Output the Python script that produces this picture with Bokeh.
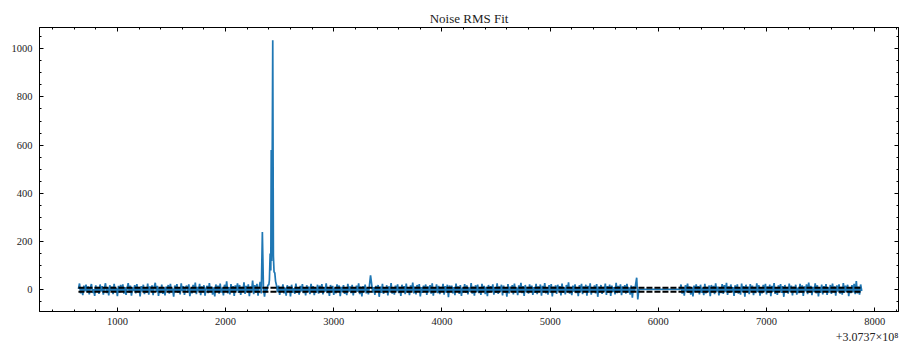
from bokeh.plotting import figure
from bokeh.models import Range1d, LinearAxis, FixedTicker, Title
from bokeh.embed import file_html
from bokeh.resources import INLINE

# ---------------- data (x is offset from 3.0737e8) ----------------
seg_a_start = 640
seg_a_step = 10
seg_a_y = [4, 26, -15, 9, -22, 17, -6, 21, -11, 14, -19, 8, 24, -13, 3, -25, 18, -9, 12, -17,
           22, -7, 15, -20, 6, 27, -14, 10, -23, 19, -4, 13, -18, 25, -10, 7, -26, 16, -12, 20,
           -8, 23, -16, 11, -21, 5, 28, -13, 17, -24, 9, -5, 19, -15, 24, -11, 12, -27, 15, -7,
           21, -18, 8, -12, 26, -20, 14, -6, 18, -22, 11, 29, -9, 16, -25, 7, -14, 22, -17, 10,
           -23, 13, -3, 20, -16, 25, -10, 6, -28, 18, -8, 24, -13, 11, -19, 27, -5, 15, -21, 9,
           17, -12, 23, -26, 8, -15, 20, -9, 30, -18, 12, -6, 25, -22, 14, -11, 19, -24, 7, 16,
           -14, 28, -8, 13, -20, 10, -27, 22, -5, 17, -16, 26, -12, 9, -23, 21, -7, 35, -15, 11,
           -19, 24, -10, 15, -25, 18, -6, 27, -13, 20, -21, 12, -9, 31, -17, 16, -11, 23, -26, 14,
           -8, 38, -18, 19, -12, 25, -24, 10, 33, -15, 240, 6, -28, 12, -10, 18, 22]

spike_x = [2405, 2412, 2418, 2422, 2426, 2430, 2436, 2442, 2448, 2455, 2462, 2470]
spike_y = [40, 150, 80, 580, 120, 430, 1035, 140, 75, 70, 35, 20]

seg_b_start = 2480
seg_b_step = 10
seg_b_y = [-10, 17, -21, 12, -6, 23, -15, 9, -24, 19, -8, 14, -27, 21, -12, 7, -17, 26, -13, 11,
           -20, 16, -7, 24, -14, 10, -23, 19, -9, 13, -18, 25, -5, 15, -22, 8, -12, 21, -16, 17,
           -10, 24, -19, 11, -8, 27, -14, 6, -25, 20, -11, 16, -21, 9, -15, 23, -6, 18, -26, 12,
           -9, 19, -17, 7, -22, 25, -8, 14, -14, 21, -23, 10, -11, 17, -8, 27, -18, 13, -27, 15,
           -10, 22, -15, 8, -19, 18, 60, 24, -12, 11, -21, 16, -9, 20, -29, 13, -13, 25, -17, 9,
           -8, 19, -23, 14, -11, 28, -16, 10, -20, 17, -6, 23, -14, 12, -25, 21, -10, 15, -18, 26,
           -12, 9, -22, 18, -7, 30, -15, 13, -19, 20, -9, 24, -27, 11, -13, 17, -8, 22, -21, 14,
           -11, 19, -16, 27, -24, 10, -10, 23, -14, 16, -18, 12, -7, 25, -20, 15, -12, 21, -31, 18,
           -9, 17, -15, 11, -22, 26, -6, 14, -17, 20, -25, 9, -11, 24, -13, 18, -19, 10, -8, 28,
           -16, 13, -24, 19, -10, 22, -14, 8, -21, 25, -7, 16, -18, 12, -26, 20, -12, 15, -9, 23,
           -20, 11, -13, 27, -17, 14, -8, 21, -23, 17, -11, 9, -28, 24, -15, 13, -6, 19, -19, 26,
           -12, 10, -22, 18, -9, 29, -14, 15, -25, 20, -10, 12, -16, 23, -7, 17, -21, 11, -13, 25,
           -18, 14, -8, 22, -24, 16, -11, 28, -15, 9, -20, 19, -12, 24, -27, 13, -9, 18, -17, 21,
           -6, 15, -23, 26, -13, 10, -19, 20, -10, 31, -16, 12, -22, 17, -8, 23, -14, 11, -26, 19,
           -11, 25, -18, 14, -9, 21, -24, 16, -12, 27, -20, 10, -7, 18, -15, 24, -29, 13, -10, 20,
           -17, 12, -8, 26, -21, 15, -13, 22, -25, 17, -9, 11, -19, 29, -14, 16, -11, 23, -22, 14,
           -7, 19, -16, 25, -12, 10, -20, 18, -33, 14, -9, 21, 50, -40, 2]

seg_c_start = 6200
seg_c_step = 10
seg_c_y = [2, 22, -16, 11, -24, 19, -8, 26, -13, 14, -20, 9, -27, 17, -10, 23, -6, 15, -19, 21,
           -12, 8, -22, 25, -15, 12, -9, 18, -26, 20, -11, 16, -18, 27, -7, 13, -23, 10, -14, 24,
           -17, 19, -10, 29, -21, 14, -13, 22, -8, 11, -25, 18, -12, 23, -16, 9, -20, 26, -9, 15,
           -28, 21, -11, 13, -18, 24, -6, 17, -22, 12, -14, 27, -10, 19, -24, 10, -15, 20, -8, 25,
           -19, 14, -12, 22, -26, 16, -9, 28, -17, 11, -21, 18, -7, 24, -13, 15, -29, 20, -11, 12,
           -16, 26, -10, 17, -23, 13, -8, 21, -20, 9, -14, 25, -12, 18, -25, 14, -6, 23, -18, 30,
           -11, 16, -22, 12, -9, 27, -15, 19, -27, 11, -13, 22, -19, 15, -8, 24, -21, 10, -12, 20,
           -17, 26, -10, 14, -24, 18, -7, 23, -16, 12, -20, 28, -13, 17, -9, 21, -26, 11, -14, 19,
           -11, 25, -18, 36, -15, 13, -20, 22, -5]

fit_levels = [9, -8]

x_major = [1000, 2000, 3000, 4000, 5000, 6000, 7000, 8000]
y_major = [0, 200, 400, 600, 800, 1000]
offset_text = "+3.0737×10⁸"
title_text = "Noise RMS Fit"

# ---------------- assemble ----------------
x_all = ([seg_a_start + seg_a_step * i for i in range(len(seg_a_y))] + spike_x +
         [seg_b_start + seg_b_step * i for i in range(len(seg_b_y))] +
         [seg_c_start + seg_c_step * i for i in range(len(seg_c_y))])
y_all = seg_a_y + spike_y + seg_b_y + seg_c_y

FONT = "Liberation Serif"

p = figure(width=900, height=343, output_backend="svg", toolbar_location=None,
           x_range=Range1d(280, 8220), y_range=Range1d(-90, 1088),
           min_border_left=39, min_border_right=2, min_border_top=27, min_border_bottom=31)
p.xgrid.visible = False
p.ygrid.visible = False
p.outline_line_color = "black"
p.outline_line_width = 1
p.background_fill_color = "white"
p.border_fill_color = "white"

p.title.text = title_text
p.title.align = "center"
p.title.text_font = FONT
p.title.text_font_size = "13px"
p.title.text_font_style = "normal"
p.title.text_color = "#222222"
p.title.standoff = 4

p.line(x_all, y_all, color="#1f77b4", line_width=1.7)
for lvl in fit_levels:
    p.line([x_all[0], x_all[-1]], [lvl, lvl], color="black", line_width=2,
           line_dash="6 2")

x_minor = [v for v in range(400, 8220, 200) if v not in x_major]
y_minor = [v for v in range(-50, 1088, 50) if v not in y_major]

p.xaxis.ticker = FixedTicker(ticks=x_major, minor_ticks=x_minor)
p.yaxis.ticker = FixedTicker(ticks=y_major, minor_ticks=y_minor)
p.add_layout(LinearAxis(ticker=FixedTicker(ticks=x_major, minor_ticks=x_minor)), "above")
p.add_layout(LinearAxis(ticker=FixedTicker(ticks=y_major, minor_ticks=y_minor)), "right")

for ax in p.axis:
    ax.major_tick_in = 4
    ax.major_tick_out = 0
    ax.minor_tick_in = 2
    ax.minor_tick_out = 0
    ax.axis_line_color = "black"
    ax.axis_line_width = 1
    ax.major_tick_line_color = "black"
    ax.minor_tick_line_color = "black"
    ax.major_label_text_font = FONT
    ax.major_label_text_font_size = "10.5px"
    ax.major_label_text_color = "#222222"

p.below[0].major_label_standoff = 6
p.left[0].major_label_standoff = 7
for ax in (p.above[0], p.right[0]):
    ax.major_label_text_color = None
    ax.major_label_standoff = 0
    ax.major_label_text_font_size = "1px"

p.add_layout(Title(text=offset_text, align="right", text_font=FONT,
                   text_font_size="12px", text_font_style="normal",
                   text_color="#222222", standoff=0, offset=0), "below")

open("out.html", "w").write(file_html(p, INLINE))
